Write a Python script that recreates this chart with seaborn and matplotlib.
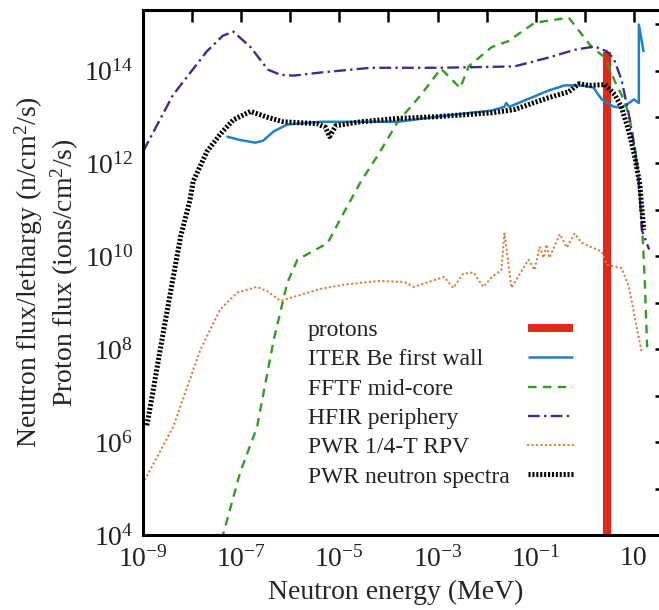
import numpy as np
import matplotlib
matplotlib.use("Agg")
import matplotlib.pyplot as plt
from matplotlib.ticker import FixedLocator, FuncFormatter, NullLocator
from matplotlib.lines import Line2D
import seaborn as sns

# ---------------- data (energy in MeV, flux per lethargy) ----------------
proton_energy = 2.8
proton_flux_top = 2.5e14

iter_energy = [5.0e-8, 9.5e-8, 1.95e-7, 2.8e-7, 4.6e-7, 8.7e-7, 4.2e-6, 1.55e-4,
               1.0e-3, 1.26e-2, 2.3e-2, 2.5e-2, 2.9e-2, 8.1e-2, 0.18, 0.39, 0.87,
               1.5, 2.2, 3.9, 5.6, 7.9, 10.0, 12.6, 12.6, 15.8]
iter_flux = [3.8e12, 3.2e12, 2.8e12, 3.1e12, 4.9e12, 6.9e12, 7.9e12, 7.9e12,
             1.02e13, 1.38e13, 1.66e13, 2.0e13, 1.66e13, 2.6e13, 3.7e13, 4.8e13, 4.8e13,
             4.3e13, 2.4e13, 1.66e13, 1.6e13, 2.0e13, 2.4e13, 2.0e13, 9.8e14, 2.5e14]

fftf_energy = [4.0e-8, 9.5e-8, 2.1e-7, 4.6e-7, 8.7e-7, 1.4e-6, 4.2e-6, 5.8e-6,
               1.23e-5, 2.75e-5, 6.2e-5, 1.55e-4, 4.6e-4, 1.17e-3, 2.9e-3, 4.3e-3,
               1.26e-2, 2.75e-2, 9.5e-2, 0.47, 0.87, 1.38, 2.6, 4.1, 6.6, 8.3,
               11.5, 14.5, 16.6, 18.6]
fftf_flux = [7.9e3, 2.2e5, 2.1e6, 1.6e8, 2.7e9, 8.5e9, 1.6e10, 1.95e10,
             8.7e10, 4.1e11, 1.55e12, 7.9e12, 3.0e13, 1.1e14, 4.2e13, 1.23e14,
             3.2e14, 4.3e14, 1.07e15, 1.38e15, 6.0e14, 3.2e14, 1.9e14, 5.8e13, 2.1e13, 8.7e12,
             1.2e12, 6.2e10, 3.2e9, 1.1e8]

hfir_energy = [1.0e-9, 4.1e-9, 2.0e-8, 4.2e-8, 6.9e-8, 1.55e-7, 3.5e-7, 6.3e-7,
               1.17e-6, 4.2e-6, 4.4e-5, 1.17e-3, 3.7e-2, 0.18, 0.62, 1.58, 2.8,
               3.9, 5.6, 7.9, 10.0, 12.6, 14.5, 20.4]
hfir_flux = [1.8e12, 3.0e13, 2.6e14, 5.6e14, 6.9e14, 3.2e14, 1.05e14, 8.1e13,
             7.8e13, 9.1e13, 1.15e14, 1.15e14, 1.23e14, 1.9e14, 2.8e14, 3.3e14, 2.6e14,
             1.8e14, 6.3e13, 1.12e13, 2.6e12, 4.1e11, 3.7e10, 1.4e10]

rpv_energy = [1.0e-9, 4.1e-9, 1.48e-8, 3.7e-8, 8.3e-8, 2.1e-7, 3.5e-7, 6.3e-7,
              1.2e-6, 4.2e-6, 1.23e-5, 6.2e-5, 2.1e-4, 3.3e-4, 1.35e-3, 2.1e-3,
              3.3e-3, 5.4e-3, 8.5e-3, 1.26e-2, 2.0e-2, 2.3e-2, 3.2e-2, 7.1e-2,
              9.5e-2, 0.12, 0.145, 0.166, 0.19, 0.31, 0.43, 0.62, 0.87, 2.2, 2.8,
              5.6, 7.9, 14.5]
rpv_flux = [1.3e5, 2.1e6, 9.8e7, 7.1e8, 1.66e9, 2.2e9, 1.74e9, 1.1e9,
            1.35e9, 2.0e9, 2.45e9, 2.95e9, 2.8e9, 2.2e9, 3.6e9, 2.1e9,
            4.2e9, 4.5e9, 2.2e9, 3.5e9, 5.1e9, 3.2e10, 2.1e9, 8.5e9,
            5.1e9, 1.6e10, 9.3e9, 1.8e10, 9.3e9, 3.0e10, 1.55e10, 3.1e10, 1.95e10,
            1.26e10, 6.6e9, 5.6e9, 2.2e9, 8.3e7]

pwr_energy = [1.2e-9, 1.58e-9, 2.24e-9, 3.5e-9, 5.8e-9, 9.1e-9, 1.05e-8, 2.0e-8,
              3.7e-8, 6.9e-8, 1.55e-7, 3.5e-7, 7.2e-7, 3.5e-6, 5.2e-6, 6.3e-6,
              8.5e-6, 2.75e-5, 1.55e-4, 1.0e-3, 1.26e-2, 3.7e-2, 0.18, 0.47, 0.76,
              1.2, 2.6, 4.1, 5.6, 7.9, 10.5, 13.2, 15.8]
pwr_flux = [2.3e6, 1.15e7, 9.8e7, 1.35e9, 2.6e10, 1.66e11, 4.1e11, 1.8e12,
            4.2e12, 8.7e12, 1.32e13, 9.8e12, 7.9e12, 7.2e12, 6.0e12, 3.8e12,
            6.5e12, 7.9e12, 9.3e12, 1.02e13, 1.23e13, 1.45e13, 2.6e13, 3.5e13, 5.2e13,
            4.8e13, 5.0e13, 3.0e13, 1.6e13, 4.9e12, 1.35e12, 3.5e11, 3.7e10]

labels = ["protons", "ITER Be first wall", "FFTF mid-core", "HFIR periphery",
          "PWR 1/4-T RPV", "PWR neutron spectra"]

x_tick_exponents = list(range(-9, 2))
y_tick_exponents = list(range(4, 16))

# ---------------- style ----------------
sns.set_theme(style="white")
plt.rcParams.update({
    "font.family": ["Liberation Serif", "DejaVu Serif"],
    "mathtext.fontset": "custom",
    "mathtext.rm": "Liberation Serif",
    "mathtext.it": "Liberation Serif:italic",
    "mathtext.bf": "Liberation Serif:bold",
    "axes.edgecolor": "black",
    "text.color": "#222222",
})

fig = plt.figure(figsize=(6.59, 6.10), dpi=100)
ax = fig.add_axes([0.217, 0.123, 0.795, 0.861])
ax.set_xscale("log")
ax.set_yscale("log")

styles = [
    dict(color="#dd2a1b", linewidth=5.8, linestyle="-", solid_capstyle="butt"),
    dict(color="#2081c3", linewidth=1.8, linestyle="-", solid_capstyle="butt"),
    dict(color="#349c26", linewidth=1.7, linestyle=(0, (3.6, 2.7)), dash_capstyle="butt"),
    dict(color="#3a2f8c", linewidth=1.7, linestyle=(0, (5.0, 1.8, 1.0, 1.8)),
         dash_capstyle="butt"),
    dict(color="#e07b3c", linewidth=1.7, linestyle=(0, (0.05, 1.85)), dash_capstyle="round"),
    dict(color="black", linewidth=3.6, linestyle=(0, (0.42, 0.36)), dash_capstyle="butt"),
]
curves = [([proton_energy, proton_energy], [1e3, proton_flux_top]),
          (iter_energy, iter_flux), (fftf_energy, fftf_flux), (hfir_energy, hfir_flux),
          (rpv_energy, rpv_flux), (pwr_energy, pwr_flux)]

# proton beam energy is the thick vertical bar; the rest are neutron spectra
for (e, f), st in zip(curves, styles):
    sns.lineplot(x=e, y=f, ax=ax, sort=False, estimator=None, legend=False, **st)

ax.set_xlim(1e-9, 47)
ax.set_ylim(1e4, 2.04e15)

# ---------------- ticks ----------------
def xfmt(v, pos):
    n = int(round(np.log10(v)))
    if n % 2 == 0:
        return ""
    if n == 1:
        return "10"
    return r"$10^{%d}$" % n

def yfmt(v, pos):
    n = int(round(np.log10(v)))
    if n % 2 == 1:
        return ""
    return r"$10^{%d}$" % n

ax.xaxis.set_major_locator(FixedLocator([10.0 ** k for k in x_tick_exponents]))
ax.yaxis.set_major_locator(FixedLocator([10.0 ** k for k in y_tick_exponents]))
ax.xaxis.set_minor_locator(NullLocator())
ax.yaxis.set_minor_locator(NullLocator())
ax.xaxis.set_major_formatter(FuncFormatter(xfmt))
ax.yaxis.set_major_formatter(FuncFormatter(yfmt))
ax.tick_params(which="major", direction="in", length=8.6, width=1.8,
               top=True, right=True, labelsize=20, colors="black",
               labelcolor="#222222")
ax.tick_params(axis="x", pad=8)
ax.tick_params(axis="y", pad=7)
for s in ax.spines.values():
    s.set_linewidth(2.2)
    s.set_color("black")

ax.set_xlabel("Neutron energy (MeV)", fontsize=20)
ax.set_ylabel("Neutron flux/lethargy (n/cm$^2$/s)\nProton flux (ions/cm$^2$/s)",
              fontsize=20, linespacing=1.15)
ax.xaxis.set_label_coords(0.483, -0.085)
ax.yaxis.set_label_coords(-0.118, 0.5)

# ---------------- legend: labels on the left, line samples on the right ----------------
common = dict(fontsize=17, frameon=False, borderpad=0, borderaxespad=0,
              labelspacing=0.33, loc="upper left")
blank = [Line2D([], [], alpha=0) for _ in labels]
leg_text = ax.legend(blank, labels, bbox_to_anchor=(0.314, 0.41),
                     handlelength=0, handletextpad=0, **common)
ax.add_artist(leg_text)
samples = [Line2D([], [], **st) for st in styles]
ax.legend(samples, [" "] * len(samples), bbox_to_anchor=(0.7356, 0.41),
          handlelength=1.9, handletextpad=0, **common)

fig.savefig("out.png", dpi=100)
